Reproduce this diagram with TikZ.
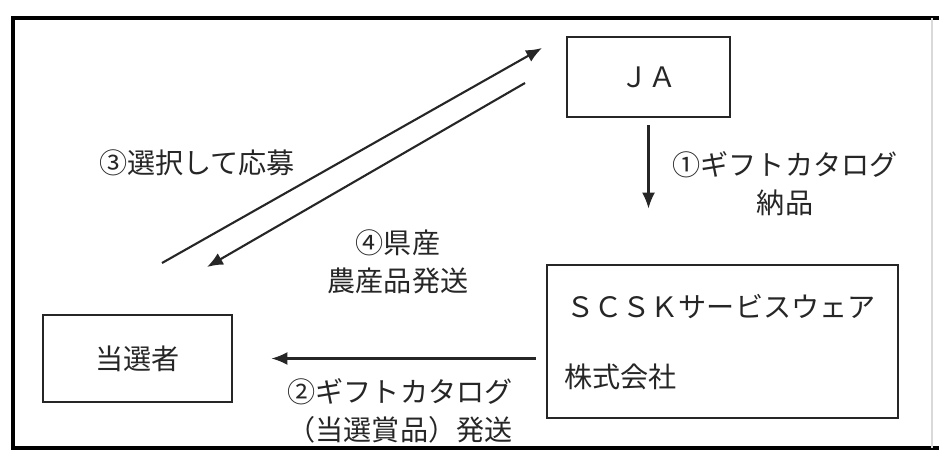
\documentclass[tikz,border=0pt]{standalone}
\usepackage{fontspec}
\setmainfont{Noto Sans CJK JP}
\usepackage{tikz}
\usetikzlibrary{arrows.meta,positioning}

\tikzset{
  box/.style={draw=black!85,line width=1.6pt,inner sep=0pt},
  flow/.style={draw=black!85,line width=1.2pt,-{Latex[length=0.32cm,width=0.26cm]}},
  lbl/.style={text=black!85,inner sep=0pt,align=center,font=\fontsize{16}{21.5}\selectfont},
  frame/.style={draw=black,line width=2.8pt}
}

\begin{document}
\begin{tikzpicture}[x=0.02cm,y=-0.02cm]
  \useasboundingbox (0,0) rectangle (939,452);
  \draw[frame] (939,18) -- (13,18) -- (13,448) -- (939,448);
  \draw[black!15,line width=0.6pt] (932,18) -- (932,448);

  % boxes
  \node[box,minimum width=3.26cm,minimum height=1.6cm] (ja) at (648.5,77) {};
  \node[lbl] (jaText) at (ja) {ＪＡ};
  \node[box,minimum width=7.02cm,minimum height=3.06cm] (scsk) at (722.5,341.5) {};
  \node[lbl,anchor=west] (scskName) at (566,307) {ＳＣＳＫサービスウェア};
  \node[lbl,anchor=west] (scskCorp) at (564,377) {株式会社};
  \node[box,minimum width=3.78cm,minimum height=1.74cm] (winner) at (137.5,358.5) {};
  \node[lbl] (winnerText) at (winner) {当選者};

  % arrows
  \draw[flow,shorten <=0.14cm,shorten >=1.1cm] (ja.south) -- (ja.south |- scsk.north);
  \draw[flow,shorten <=0.2cm,shorten >=0.76cm] (scsk.west |- winner.east) -- (winner.east);
  \coordinate (applyStart) at (162,263);
  \coordinate (applyEnd) at (542,48);
  \coordinate (sendStart) at (525,83);
  \coordinate (sendEnd) at (207,267);
  \draw[flow] (applyStart) -- (applyEnd);
  \draw[flow] (sendStart) -- (sendEnd);

  % labels
  \node[lbl] (l1) at (785,184) {①ギフトカタログ\\納品};
  \node[lbl] (l2) at (400,410.5) {②ギフトカタログ\\（当選賞品）発送};
  \node[lbl] (l3) at (197,163) {③選択して応募};
  \node[lbl] (l4) at (398,261.5) {④県産\\農産品発送};
\end{tikzpicture}
\end{document}
